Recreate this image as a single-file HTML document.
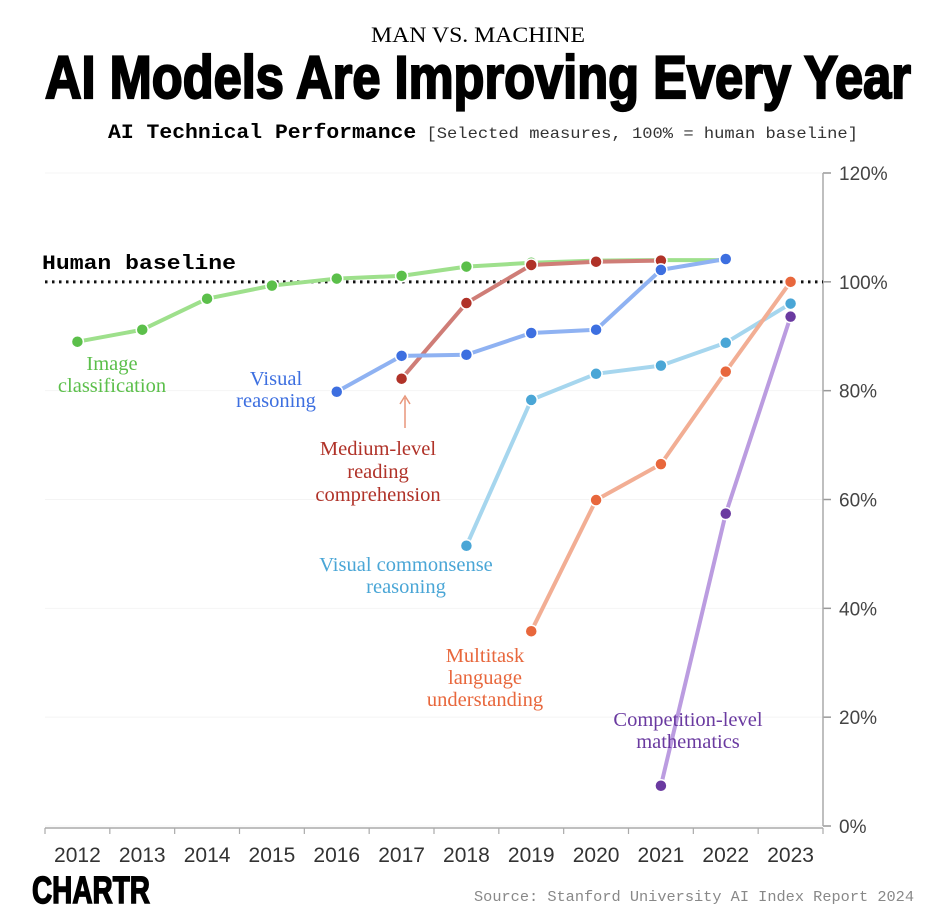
<!DOCTYPE html>
<html><head><meta charset="utf-8"><style>
html,body{margin:0;padding:0;background:#fff;}
svg{display:block;}
</style></head><body>
<svg id="chart" width="932" height="920" viewBox="0 0 932 920" xmlns="http://www.w3.org/2000/svg">
<text x="478" y="42" text-anchor="middle" font-family="Liberation Serif, serif" font-size="22" textLength="214" lengthAdjust="spacingAndGlyphs">MAN VS. MACHINE</text>
<text x="478" y="98" text-anchor="middle" font-family="Liberation Sans Narrow, Liberation Sans, sans-serif" font-weight="bold" font-size="60" stroke="#000" stroke-width="2.2" textLength="866" lengthAdjust="spacingAndGlyphs">AI Models Are Improving Every Year</text>
<text x="108" y="138" font-family="Liberation Mono, monospace" font-size="20" textLength="750" lengthAdjust="spacingAndGlyphs"><tspan font-weight="bold">AI Technical Performance</tspan><tspan font-size="16" fill="#333"> [Selected measures, 100% = human baseline]</tspan></text>
<g id="axes"></g>
<g id="series"></g>
<text x="42" y="269" font-family="Liberation Mono, monospace" font-weight="bold" font-size="20" textLength="194" lengthAdjust="spacingAndGlyphs">Human baseline</text>
<g font-family="Liberation Serif, serif" font-size="20.5" text-anchor="middle">
<text x="112" y="370" fill="#5bbf4a"><tspan x="112">Image</tspan><tspan x="112" dy="22">classification</tspan></text>
<text x="276" y="385" fill="#3d6fe0"><tspan x="276">Visual</tspan><tspan x="276" dy="22">reasoning</tspan></text>
<text x="378" y="455" fill="#b03228"><tspan x="378">Medium-level</tspan><tspan x="378" dy="23">reading</tspan><tspan x="378" dy="23">comprehension</tspan></text>
<text x="406" y="571" fill="#4aa6d6"><tspan x="406">Visual commonsense</tspan><tspan x="406" dy="22">reasoning</tspan></text>
<text x="485" y="662" fill="#e8673c"><tspan x="485">Multitask</tspan><tspan x="485" dy="22">language</tspan><tspan x="485" dy="22">understanding</tspan></text>
<text x="688" y="726" fill="#6a3aa0"><tspan x="688">Competition-level</tspan><tspan x="688" dy="22">mathematics</tspan></text>
</g>
<g stroke="#e8967a" stroke-width="1.5" fill="none"><line x1="405" y1="398" x2="405" y2="428"/><path d="M400 404 L405 396 L410 404"/></g>
<text x="32" y="903" font-family="Liberation Sans Narrow, Liberation Sans, sans-serif" font-weight="bold" font-size="38" stroke="#000" stroke-width="1.5" textLength="118" lengthAdjust="spacingAndGlyphs">CHARTR</text>
<text x="914" y="901" text-anchor="end" font-family="Liberation Mono, monospace" font-size="15" fill="#888" textLength="440" lengthAdjust="spacingAndGlyphs">Source: Stanford University AI Index Report 2024</text>
</svg>
<script>
const years = ["2012","2013","2014","2015","2016","2017","2018","2019","2020","2021","2022","2023"];
const yTicks = [0,20,40,60,80,100,120];
const imageClassification = [89,91.2,96.9,99.3,100.6,101.1,102.8,103.5,103.9,104,104,null];
const visualReasoning = [null,null,null,null,79.8,86.4,86.6,90.6,91.2,102.2,104.2,null];
const mediumReading = [null,null,null,null,null,82.2,96.1,103.1,103.7,103.9,null,null];
const visualCommonsense = [null,null,null,null,null,null,51.5,78.3,83.1,84.6,88.8,96];
const multitask = [null,null,null,null,null,null,null,35.8,59.9,66.5,83.5,100];
const competitionMath = [null,null,null,null,null,null,null,null,null,7.4,57.4,93.6];
const seriesDefs = [
 {name:"image-classification", data:imageClassification, line:"#9ee08c", dot:"#5bbf4a"},
 {name:"visual-commonsense", data:visualCommonsense, line:"#a6d6ee", dot:"#4aa6d6"},
 {name:"multitask", data:multitask, line:"#f2ae94", dot:"#e8673c"},
 {name:"competition-math", data:competitionMath, line:"#bb9ce0", dot:"#6a3aa0"},
 {name:"medium-reading", data:mediumReading, line:"#cf7d77", dot:"#b03228"},
 {name:"visual-reasoning", data:visualReasoning, line:"#8fb2f2", dot:"#3d6fe0"}
];
const NS="http://www.w3.org/2000/svg";
const x0=45,x1=823,y0=826,y120=173;
const band=(x1-x0)/years.length;
const xs=i=>x0+(i+0.5)*band;
const ys=v=>y0-(v/120)*(y0-y120);
function mk(tag,attrs,parent){const e=document.createElementNS(NS,tag);for(const k in attrs)e.setAttribute(k,attrs[k]);parent.appendChild(e);return e;}
const axes=document.getElementById('axes');
yTicks.forEach(t=>{
 const g=mk('line',{x1:x0,x2:x1,y1:ys(t),y2:ys(t),stroke:'#f4f4f4','stroke-width':1},axes);
 
 
 const tk=mk('line',{x1:x1,x2:x1+8,y1:ys(t),y2:ys(t),stroke:'#999','stroke-width':1.5},axes);
 
 
 const tx=mk('text',{x:x1+16,y:ys(t)+7,'font-family':'Liberation Sans Narrow, Liberation Sans, sans-serif','font-size':19,fill:'#444'},axes);
 tx.textContent=t+'%';
 
 
});
const ya=mk('line',{x1:x1,x2:x1,y1:y120,y2:y0,stroke:'#aaa','stroke-width':1.5},axes);


const xa=mk('line',{x1:x0,x2:x1,y1:y0+2,y2:y0+2,stroke:'#aaa','stroke-width':1.5},axes);


for(let i=0;i<=years.length;i++){
 const tk=mk('line',{x1:x0+i*band,x2:x0+i*band,y1:y0+2,y2:y0+8,stroke:'#aaa','stroke-width':1.2},axes);
 
 
}
years.forEach((y,i)=>{
 const tx=mk('text',{x:xs(i),y:862,'text-anchor':'middle','font-family':'Liberation Sans Narrow, Liberation Sans, sans-serif','font-size':21,fill:'#333'},axes);
 tx.textContent=y;
 
 
});
const bl=mk('line',{x1:x0,x2:x1,y1:ys(100),y2:ys(100),stroke:'#111','stroke-width':3,'stroke-dasharray':'2.5 4.5'},axes);


const sg=document.getElementById('series');
seriesDefs.forEach(s=>{
 const pts=[];s.data.forEach((v,i)=>{if(v!==null)pts.push([xs(i),ys(v)]);});
 const pl=mk('polyline',{points:pts.map(p=>p.join(',')).join(' '),fill:'none',stroke:s.line,'stroke-width':4,'stroke-linejoin':'round'},sg);
 
 
});
seriesDefs.forEach(s=>{
 s.data.forEach((v,i)=>{if(v===null)return;
  const c=mk('circle',{cx:xs(i),cy:ys(v),r:6,fill:s.dot,stroke:'#fff','stroke-width':1.5},sg);
  
  
 });
});
</script>
</body></html>
